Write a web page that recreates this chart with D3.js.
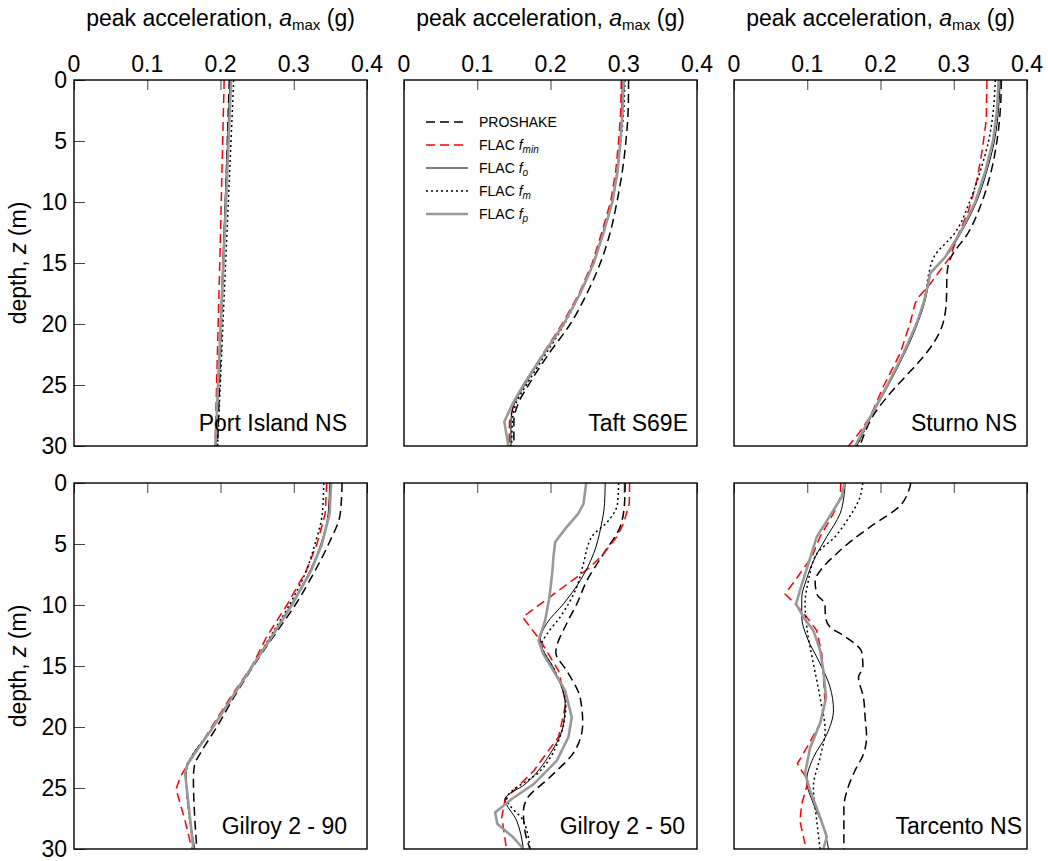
<!DOCTYPE html>
<html><head><meta charset="utf-8">
<script src="https://cdn.jsdelivr.net/npm/d3@7"></script>
<style>body{margin:0;background:#fff;} svg{display:block;font-family:Arial,"Liberation Sans",sans-serif;}</style>
</head><body>
<svg id="chart" width="1048" height="861"></svg>
<script>
// ---------- data ----------
const panelNames = ["Port Island NS","Taft S69E","Sturno NS","Gilroy 2 - 90","Gilroy 2 - 50","Tarcento NS"];
const seriesKeys = ["PROSHAKE","fmin","f0","fm","fp"];
const xTicks = [0,0.1,0.2,0.3,0.4];
const xTickLabels = ["0","0.1","0.2","0.3","0.4"];
const yTicks = [0,5,10,15,20,25,30];
const yTickLabels = ["0","5","10","15","20","25","30"];

// Port Island NS
const portZ = [0,15,30];
const portProshake = [0.212,0.204,0.196];
const portFmin = [0.205,0.199,0.1925];
const portF0 = [0.213,0.203,0.194];
const portFm = [0.218,0.207,0.196];
const portFp = [0.2145,0.204,0.193];

// Taft S69E
const taftZ = [0,2.5,5,7.5,10,12.5,15,17.5,20,22.5,25,26.5,28,30];
const taftProshake = [0.3066,0.306,0.303,0.298,0.2907,0.2815,0.268,0.2497,0.227,0.197,0.170,0.156,0.150,0.150];
const taftFmin = [0.2966,0.296,0.293,0.289,0.282,0.270,0.257,0.239,0.216,0.189,0.163,0.150,0.144,0.1435];
const taftF0 = [0.298,0.2975,0.295,0.291,0.284,0.272,0.259,0.2405,0.218,0.191,0.165,0.151,0.146,0.146];
const taftFm = [0.3015,0.300,0.296,0.291,0.284,0.2715,0.258,0.240,0.219,0.193,0.167,0.153,0.148,0.147];
const taftFp = [0.2998,0.2985,0.2955,0.2915,0.2845,0.2725,0.259,0.2405,0.218,0.190,0.163,0.1485,0.137,0.1425];

// Sturno NS
const sturProZ = [0,2.5,5,7.5,10,12.5,14.7,16,18,20,21.6,23,24.5,26,27.5,29,30];
const sturProshake = [0.365,0.3635,0.359,0.351,0.3385,0.320,0.295,0.2907,0.290,0.285,0.272,0.254,0.231,0.2087,0.190,0.178,0.172];
const sturFminZ = [0,3.3,5.9,8.2,10.7,12.8,14.5,15.6,16.7,17.8,18.3,19.9,22.4,25.1,27.6,29,30];
const sturFmin = [0.3453,0.3444,0.3385,0.3317,0.3203,0.3052,0.2952,0.2815,0.2679,0.2519,0.2474,0.2405,0.2269,0.2041,0.1859,0.1699,0.1563];
const sturZ = [0,2.5,5,7.5,10,12.5,14.5,15.85,16.9,18.3,19.9,22.4,25.1,27.9,30];
const sturF0 = [0.3635,0.361,0.3555,0.345,0.331,0.310,0.289,0.268,0.265,0.260,0.251,0.233,0.210,0.1845,0.1677];
const sturFm = [0.3567,0.354,0.3476,0.336,0.3216,0.302,0.273,0.266,0.263,0.258,0.249,0.231,0.2087,0.1845,0.168];
const sturFp = [0.3613,0.359,0.3535,0.343,0.3294,0.3089,0.2884,0.2679,0.2642,0.2588,0.2497,0.2314,0.2087,0.1836,0.1654];

// Gilroy 2 - 90
const g90ProZ = [0,2.5,5,7.2,10,12.6,15,17.6,20,22.2,23,24.1,30];
const g90Proshake = [0.366,0.3635,0.3476,0.329,0.302,0.272,0.245,0.218,0.195,0.172,0.165,0.163,0.1677];
const g90FminZ = [0,2.5,5,7.2,10,12.6,15,17.6,20,22.2,23.2,24.1,25.1,27.7,30];
const g90Fmin = [0.345,0.343,0.3317,0.317,0.2907,0.263,0.243,0.2132,0.188,0.165,0.154,0.145,0.1394,0.1517,0.161];
const g90Z = [0,2.5,5,7.2,10,12.6,15,17.6,20,23,23.8,30];
const g90F0 = [0.349,0.347,0.337,0.322,0.296,0.269,0.243,0.215,0.190,0.156,0.153,0.165];
const g90Fm = [0.341,0.339,0.329,0.317,0.294,0.268,0.243,0.215,0.190,0.156,0.153,0.164];
const g90Fp = [0.351,0.349,0.3385,0.3235,0.2975,0.270,0.2437,0.2155,0.190,0.155,0.1517,0.163];

// Gilroy 2 - 50
const g50ProZ = [0,1.7,3.6,5.8,8,9.9,11.5,13.9,15.4,17.6,19.7,21.9,24.1,25.9,26.9,28.5,30];
const g50Proshake = [0.302,0.301,0.295,0.2724,0.2497,0.236,0.2223,0.2073,0.2223,0.2405,0.244,0.2337,0.1995,0.1677,0.163,0.165,0.172];
const g50FminZ = [0,1.7,3.3,4.4,5.8,6.9,11,12.9,15.4,18.1,20.8,23.6,25.9,27.4,29.8];
const g50Fmin = [0.308,0.3075,0.2998,0.2907,0.2724,0.2542,0.162,0.186,0.211,0.221,0.211,0.177,0.138,0.1335,0.1394];
const g50F0Z = [0,1.7,3.6,5.8,8,9.9,11.5,12.9,15.4,18.1,19.7,22.2,24.7,25.9,27.7,30];
const g50F0 = [0.2747,0.2738,0.2688,0.2588,0.2405,0.2178,0.195,0.186,0.206,0.220,0.218,0.1995,0.165,0.138,0.154,0.163];
const g50FmZ = [0,1.7,3.1,4.4,6.6,8.5,11,12.4,13.2,15.4,18.1,20.8,23.6,25.9,27.7,30];
const g50Fm = [0.293,0.2915,0.279,0.2565,0.245,0.236,0.213,0.195,0.188,0.206,0.221,0.213,0.186,0.1403,0.163,0.172];
const g50FpZ = [0,1.7,2.5,3.6,4.84,6.07,7.16,9.35,11.27,12.9,14,15.4,17,19.2,20.8,22.75,24.7,25.9,27,27.95,29.04,30];
const g50Fp = [0.2488,0.245,0.238,0.2223,0.2064,0.204,0.2027,0.1986,0.1927,0.1836,0.190,0.204,0.220,0.229,0.2246,0.2087,0.1768,0.147,0.1244,0.1276,0.149,0.163];

// Tarcento NS
const tarProZ = [0,0.875,1.7,3.6,4.7,5.8,7.2,8,9.1,9.9,11,11.8,12.6,13.9,15.1,15.9,17.6,19.2,20.8,22.2,23.6,24.9,26.6,30];
const tarProshake = [0.2415,0.237,0.2292,0.186,0.161,0.140,0.1175,0.1107,0.113,0.124,0.125,0.131,0.152,0.1745,0.176,0.170,0.1768,0.179,0.181,0.1768,0.165,0.156,0.150,0.150];
const tarFminZ = [0,1.2,2.5,4.4,6.1,7.2,8,9.1,9.9,11,12.1,14,15.9,18.1,19.7,21.7,23,23.6,24.4,26.3,27.7,29.6];
const tarFmin = [0.1458,0.145,0.1358,0.1175,0.106,0.0925,0.0834,0.0697,0.0834,0.0993,0.113,0.1198,0.122,0.1244,0.1175,0.0993,0.0866,0.0925,0.1016,0.0925,0.090,0.097];
const tarF0Z = [0,1.15,2.5,4.4,6.1,8,9.4,11,12.6,14.8,16.7,18.6,20.6,22.5,24.4,26.3,28.2,30];
const tarF0 = [0.1517,0.150,0.1449,0.1267,0.1107,0.0984,0.0925,0.0925,0.0993,0.1175,0.131,0.1358,0.1267,0.1084,0.0993,0.1084,0.122,0.129];
const tarFmZ = [0,1.15,3.1,4.4,5.8,8,9.9,12.1,14.8,17.6,20.3,22.5,24.9,27.7,30];
const tarFm = [0.1758,0.172,0.154,0.138,0.113,0.1016,0.097,0.100,0.1084,0.1175,0.1244,0.1175,0.1084,0.113,0.1175];
const tarFpZ = [0,1.15,3.1,4.4,6.6,8.3,9.9,11,12.1,13.7,15.4,17.6,19.7,21.7,23.8,25.2,27.4,29,30];
const tarFp = [0.1508,0.147,0.1267,0.113,0.1016,0.0925,0.0847,0.0948,0.1084,0.1175,0.122,0.1257,0.1175,0.1039,0.097,0.1039,0.1175,0.1267,0.122];

// assemble: per panel, per series [depths, accelerations]
const panelData = [
  [[portZ,portProshake],[portZ,portFmin],[portZ,portF0],[portZ,portFm],[portZ,portFp]],
  [[taftZ,taftProshake],[taftZ,taftFmin],[taftZ,taftF0],[taftZ,taftFm],[taftZ,taftFp]],
  [[sturProZ,sturProshake],[sturFminZ,sturFmin],[sturZ,sturF0],[sturZ,sturFm],[sturZ,sturFp]],
  [[g90ProZ,g90Proshake],[g90FminZ,g90Fmin],[g90Z,g90F0],[g90Z,g90Fm],[g90Z,g90Fp]],
  [[g50ProZ,g50Proshake],[g50FminZ,g50Fmin],[g50F0Z,g50F0],[g50FmZ,g50Fm],[g50FpZ,g50Fp]],
  [[tarProZ,tarProshake],[tarFminZ,tarFmin],[tarF0Z,tarF0],[tarFmZ,tarFm],[tarFpZ,tarFp]]
];

// ---------- layout / style ----------
const colX = [74,404,734], rowY = [80,483], PW = 293, PH = 366;
const labelRightPad = [20,9,10,20,12,5];
const styles = {
  PROSHAKE:{stroke:"#000",width:1.5,dash:"9,5",curve:d3.curveMonotoneY},
  fmin:{stroke:"#ff0000",width:1.5,dash:"9,5",curve:d3.curveLinear},
  f0:{stroke:"#000",width:1,dash:null,curve:d3.curveMonotoneY},
  fm:{stroke:"#000",width:1.5,dash:"2,3",curve:d3.curveMonotoneY},
  fp:{stroke:"#999",width:2.6,dash:null,curve:d3.curveLinear}
};
const drawOrder = ["PROSHAKE","fmin","f0","fm","fp"];

const svg = d3.select("#chart");
const FS = 23;

panelData.forEach((pd,i)=>{
  const col = i%3, row = Math.floor(i/3);
  const x0 = colX[col], y0 = rowY[row];
  const x = d3.scaleLinear().domain([0,0.4]).range([x0,x0+PW]);
  const y = d3.scaleLinear().domain([0,30]).range([y0,y0+PH]);
  const g = svg.append("g");

  // top axis ticks (inward)
  const topAxis = d3.axisBottom(x).tickValues(xTicks).tickSize(10).tickFormat("");
  const ta = g.append("g").attr("transform",`translate(0,${y0})`).call(topAxis);
  ta.select(".domain").remove();
  ta.selectAll("line").attr("stroke","#444");
  if(row===0){
    g.selectAll(".xl").data(xTicks).enter().append("text")
      .attr("x",d=>x(d)).attr("y",y0-8).attr("text-anchor","middle")
      .attr("font-size",FS).text((d,k)=>xTickLabels[k]);
    const t = g.append("text").attr("x",x0+PW/2).attr("y",26).attr("text-anchor","middle").attr("font-size",23);
    t.append("tspan").text("peak acceleration, ");
    t.append("tspan").attr("font-style","italic").text("a");
    t.append("tspan").attr("font-size",15).attr("dy",4).text("max");
    t.append("tspan").attr("dy",-4).text(" (g)");
  }
  if(col===0){
    const leftAxis = d3.axisRight(y).tickValues(yTicks).tickSize(11).tickFormat("");
    const la = g.append("g").attr("transform",`translate(${x0},0)`).call(leftAxis);
    la.select(".domain").remove();
    la.selectAll("line").attr("stroke","#444");
    g.selectAll(".yl").data(yTicks).enter().append("text")
      .attr("x",x0-7).attr("y",d=>y(d)).attr("dy","0.36em").attr("text-anchor","end")
      .attr("font-size",FS).text((d,k)=>yTickLabels[k]);
    const yt = g.append("text").attr("transform",`translate(26,${y0+PH/2}) rotate(-90)`)
      .attr("text-anchor","middle").attr("font-size",23);
    yt.append("tspan").text("depth, ");
    yt.append("tspan").attr("font-style","italic").text("z");
    yt.append("tspan").text(" (m)");
  }

  // series
  drawOrder.forEach(key=>{
    const si = seriesKeys.indexOf(key);
    const [zs,as] = pd[si];
    const pts = zs.map((z,k)=>({z:z,a:as[k]}));
    const st = styles[key];
    const line = d3.line().x(d=>x(d.a)).y(d=>y(d.z)).curve(st.curve);
    g.append("path").datum(pts).attr("d",line).attr("fill","none")
      .attr("stroke",st.stroke).attr("stroke-width",st.width)
      .attr("stroke-dasharray",st.dash);
  });

  // frame
  g.append("rect").attr("x",x0).attr("y",y0).attr("width",PW).attr("height",PH)
    .attr("fill","none").attr("stroke","#000").attr("stroke-width",1.4);

  // panel label
  g.append("text").attr("x",x0+PW-labelRightPad[i]).attr("y",y0+PH-15)
    .attr("text-anchor","end").attr("font-size",FS).text(panelNames[i]);
});

// legend in panel 2
const legendLabels = [["PROSHAKE",null],["FLAC ","min"],["FLAC ","o"],["FLAC ","m"],["FLAC ","p"]];
const lg = svg.append("g");
seriesKeys.forEach((key,k)=>{
  const ly = 122 + k*23;
  const st = styles[key];
  lg.append("line").attr("x1",426).attr("x2",468).attr("y1",ly).attr("y2",ly)
    .attr("stroke",st.stroke).attr("stroke-width",st.width).attr("stroke-dasharray",st.dash);
  const t = lg.append("text").attr("x",479).attr("y",ly+5).attr("font-size",14);
  t.append("tspan").text(legendLabels[k][0]);
  if(legendLabels[k][1]){
    t.append("tspan").attr("font-style","italic").text("f");
    t.append("tspan").attr("font-style","italic").attr("font-size",10).attr("dy",3).text(legendLabels[k][1]);
  }
});
</script>
</body></html>
